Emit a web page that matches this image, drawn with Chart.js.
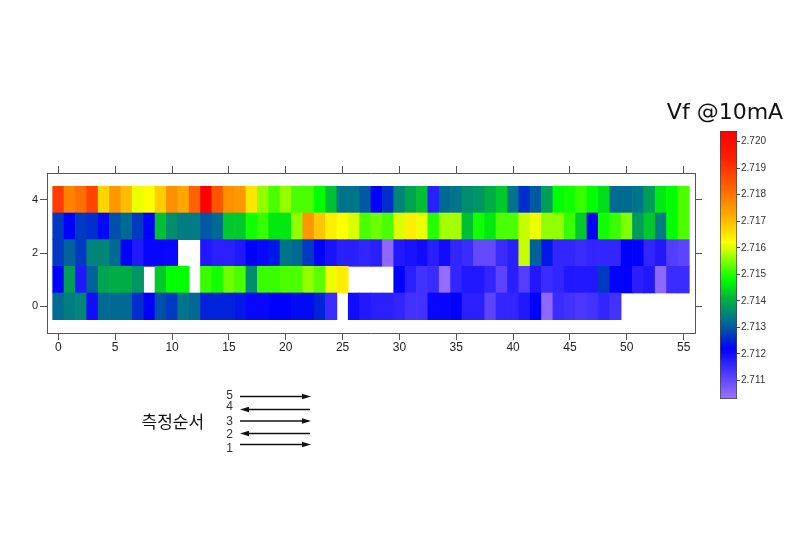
<!DOCTYPE html>
<html><head><meta charset="utf-8">
<script src="https://cdn.jsdelivr.net/npm/chart.js@4.4.1/dist/chart.umd.min.js"></script>
<style>
html,body{margin:0;padding:0;background:#fff;}
#wrap{position:relative;width:800px;height:533px;overflow:hidden;background:#fff;}
#main{position:absolute;left:0;top:0;}
#cbar{position:absolute;left:700px;top:120px;}
#overlay{position:absolute;left:0;top:0;}
</style></head><body>
<div id="wrap">
<canvas id="main" width="800" height="533"></canvas>
<canvas id="cbar" width="100" height="290"></canvas>
<svg id="overlay" width="800" height="533" xmlns="http://www.w3.org/2000/svg"></svg>
</div>
<script>
// ---- data (measurement order rows 0..4, positions 0..55) ----
const positions = Array.from({length: 56}, (_, i) => i);
const rowIds = [0, 1, 2, 3, 4];
const row0 = [2.7132, 2.7134, 2.7135, 2.7120, 2.7132, 2.7132, 2.7132, 2.7126, 2.7122, 2.7129,
  2.7127, 2.7133, 2.7132, 2.7125, 2.7125, 2.7125, 2.7124, 2.7121, 2.7121, 2.7122,
  2.7122, 2.7123, 2.7123, 2.7125, 2.7115, null, 2.7120, 2.7118, 2.7117, 2.7117,
  2.7116, 2.7114, 2.7114, 2.7121, 2.7121, 2.7122, 2.7117, 2.7117, 2.7111, 2.7116,
  2.7116, 2.7118, 2.7122, 2.7105, 2.7115, 2.7114, 2.7113, 2.7114, 2.7116, 2.7114,
  null, null, null, null, null, null];
const row1 = [2.7122, 2.7138, 2.7118, 2.7131, 2.7139, 2.7140, 2.7140, 2.7137, null, 2.7143,
  2.7148, 2.7148, null, 2.7151, 2.7149, 2.7154, 2.7152, 2.7136, 2.7151, 2.7151,
  2.7152, 2.7152, 2.7156, 2.7153, 2.7161, 2.7164, null, null, null, null,
  2.7122, 2.7117, 2.7114, 2.7115, 2.7104, 2.7116, 2.7118, 2.7118, 2.7116, 2.7111,
  2.7117, 2.7112, 2.7118, 2.7115, 2.7116, 2.7118, 2.7118, 2.7118, 2.7127, 2.7122,
  2.7122, 2.7117, 2.7118, 2.7105, 2.7115, 2.7115];
const row2 = [2.7127, 2.7131, 2.7127, 2.7135, 2.7135, 2.7132, 2.7122, 2.7118, 2.7121, 2.7121,
  2.7121, null, null, 2.7118, 2.7117, 2.7117, 2.7118, 2.7122, 2.7121, 2.7124,
  2.7133, 2.7132, 2.7127, 2.7122, 2.7119, 2.7117, 2.7117, 2.7116, 2.7117, 2.7105,
  2.7118, 2.7119, 2.7120, 2.7117, 2.7120, 2.7116, 2.7115, 2.7110, 2.7110, 2.7115,
  2.7117, 2.7159, 2.7131, 2.7124, 2.7116, 2.7116, 2.7115, 2.7116, 2.7116, 2.7116,
  2.7122, 2.7122, 2.7116, 2.7118, 2.7112, 2.7111];
const row3 = [2.7127, 2.7122, 2.7127, 2.7126, 2.7123, 2.7129, 2.7132, 2.7127, 2.7122, 2.7142,
  2.7136, 2.7134, 2.7134, 2.7130, 2.7132, 2.7143, 2.7143, 2.7149, 2.7151, 2.7146,
  2.7146, 2.7156, 2.7175, 2.7169, 2.7164, 2.7162, 2.7160, 2.7152, 2.7154, 2.7152,
  2.7160, 2.7164, 2.7161, 2.7150, 2.7157, 2.7157, 2.7142, 2.7149, 2.7146, 2.7152,
  2.7152, 2.7159, 2.7161, 2.7156, 2.7156, 2.7151, 2.7143, 2.7122, 2.7149, 2.7151,
  2.7155, 2.7138, 2.7143, 2.7134, 2.7148, 2.7152];
const row4 = [2.7189, 2.7178, 2.7181, 2.7188, 2.7167, 2.7175, 2.7170, 2.7161, 2.7162, 2.7168,
  2.7176, 2.7173, 2.7183, 2.7204, 2.7185, 2.7176, 2.7175, 2.7165, 2.7156, 2.7152,
  2.7156, 2.7152, 2.7152, 2.7148, 2.7142, 2.7133, 2.7133, 2.7130, 2.7122, 2.7126,
  2.7135, 2.7139, 2.7142, 2.7117, 2.7132, 2.7133, 2.7136, 2.7137, 2.7140, 2.7143,
  2.7133, 2.7126, 2.7130, 2.7138, 2.7148, 2.7149, 2.7151, 2.7148, 2.7145, 2.7132,
  2.7132, 2.7133, 2.7138, 2.7146, 2.7148, 2.7152];
const xTicks = [0, 5, 10, 15, 20, 25, 30, 35, 40, 45, 50, 55];
const yTicks = [0, 2, 4];
const cbTicks = [2.711, 2.712, 2.713, 2.714, 2.715, 2.716, 2.717, 2.718, 2.719, 2.720];
const cbMin = 2.7103, cbMax = 2.7204;
const cbTitle = 'Vf @10mA';
const orderTitle = '측정순서';
const orderLabels = ['5', '4', '3', '2', '1'];
const orderDirections = ['right', 'left', 'right', 'left', 'right'];

// colour map
const cmapStops = [2.7104, 2.7122, 2.7129, 2.7134, 2.7141, 2.7148, 2.7162, 2.7171, 2.7181, 2.7194, 2.7204];
const cmapColors = [[150,110,255],[0,0,255],[0,80,170],[0,125,130],[0,180,60],[0,255,0],[255,255,0],[255,180,0],[255,110,0],[255,30,0],[255,0,0]];
function colorFor(v) {
  if (v <= cmapStops[0]) return 'rgb(' + cmapColors[0].join(',') + ')';
  const n = cmapStops.length;
  if (v >= cmapStops[n-1]) return 'rgb(' + cmapColors[n-1].join(',') + ')';
  for (let i = 0; i < n - 1; i++) {
    if (v >= cmapStops[i] && v <= cmapStops[i+1]) {
      const t = (v - cmapStops[i]) / (cmapStops[i+1] - cmapStops[i]);
      const c = cmapColors[i].map((a, k) => Math.round(a + (cmapColors[i+1][k] - a) * t));
      return 'rgb(' + c.join(',') + ')';
    }
  }
}

const FONT = "'Liberation Sans', Arial, sans-serif";
const fixedTicks = list => scale => { scale.ticks = list.map(v => ({value: v})); };
const rows = [row0, row1, row2, row3, row4];

const datasets = rows.map((vals, r) => {
  const pts = [], cols = [];
  vals.forEach((v, c) => {
    if (v !== null) { pts.push({x: positions[c], y: [rowIds[r] - 0.5, rowIds[r] + 0.5]}); cols.push(colorFor(v)); }
  });
  return {data: pts, backgroundColor: cols, borderWidth: 0, grouped: false,
    barPercentage: 1, categoryPercentage: 1, xAxisID: 'x', yAxisID: 'y'};
});

const axisGrid = {drawOnChartArea: false, drawTicks: true, tickLength: 7, color: '#555', offset: false};
const axisBorder = {display: true, color: '#555', width: 1};

new Chart(document.getElementById('main'), {
  type: 'bar',
  data: {datasets},
  options: {
    responsive: false, animation: false, devicePixelRatio: 1,
    layout: {padding: {left: 27, top: 165, right: 97, bottom: 175}},
    plugins: {legend: {display: false}, tooltip: {enabled: false}},
    scales: {
      x: {type: 'linear', position: 'bottom', min: -1, max: 56, offset: false,
        afterBuildTicks: fixedTicks(xTicks), afterFit: s => { s.height = 25; },
        ticks: {color: '#222', font: {family: FONT, size: 12}, padding: 0, maxRotation: 0, autoSkip: false},
        grid: axisGrid, border: axisBorder},
      x2: {type: 'linear', position: 'top', min: -1, max: 56, offset: false,
        afterBuildTicks: fixedTicks(xTicks), afterFit: s => { s.height = 8; },
        ticks: {display: false}, grid: axisGrid, border: axisBorder},
      y: {type: 'linear', position: 'left', min: -1, max: 5,
        afterBuildTicks: fixedTicks(yTicks), afterFit: s => { s.width = 20; },
        ticks: {color: '#222', font: {family: FONT, size: 11}, padding: 2},
        grid: axisGrid, border: axisBorder},
      y2: {type: 'linear', position: 'right', min: -1, max: 5,
        afterBuildTicks: fixedTicks(yTicks), afterFit: s => { s.width = 8; },
        ticks: {display: false}, grid: axisGrid, border: axisBorder}
    }
  }
});

new Chart(document.getElementById('cbar'), {
  type: 'bar',
  data: {labels: [cbTitle], datasets: [{
    data: [[cbMin, cbMax]],
    backgroundColor: (ctx) => {
      const chart = ctx.chart;
      const ys = chart.scales && chart.scales.y;
      if (!chart.chartArea || !ys) return '#888';
      const y0 = ys.getPixelForValue(cbMin), y1 = ys.getPixelForValue(cbMax);
      const g = chart.ctx.createLinearGradient(0, y0, 0, y1);
      cmapStops.forEach((s, i) => {
        const off = (s - cbMin) / (cbMax - cbMin);
        if (off >= 0 && off <= 1) g.addColorStop(off, 'rgb(' + cmapColors[i].join(',') + ')');
      });
      g.addColorStop(0, colorFor(cbMin));
      g.addColorStop(1, colorFor(cbMax));
      return g;
    },
    borderColor: '#444', borderWidth: 1, borderSkipped: false,
    barPercentage: 1, categoryPercentage: 1
  }]},
  options: {
    responsive: false, animation: false, devicePixelRatio: 1,
    layout: {padding: {left: 20, right: 18, top: 11, bottom: 11}},
    plugins: {legend: {display: false}, tooltip: {enabled: false}},
    scales: {
      x: {display: false},
      y: {position: 'right', min: cbMin, max: cbMax,
        afterBuildTicks: fixedTicks(cbTicks), afterFit: s => { s.width = 45; },
        ticks: {color: '#333', font: {family: FONT, size: 10}, padding: 1, callback: v => Number(v).toFixed(3)},
        grid: {drawOnChartArea: false, drawTicks: true, tickLength: 3, color: '#444'},
        border: {display: false}}
    }
  }
});

// annotation overlay (title + measurement order legend)
(function() {
  const svg = document.getElementById('overlay');
  const NS = 'http://www.w3.org/2000/svg';
  function el(tag, attrs, text) {
    const e = document.createElementNS(NS, tag);
    for (const k in attrs) e.setAttribute(k, attrs[k]);
    if (text !== undefined) e.textContent = text;
    svg.appendChild(e); return e;
  }
  el('text', {x: 725, y: 119, 'font-family': 'DejaVu Sans', 'font-size': 22, 'text-anchor': 'middle', fill: '#111'}, cbTitle);
  el('text', {x: 141.5, y: 428, 'font-family': "'Noto Sans CJK KR'", 'font-size': 17, fill: '#111'}, orderTitle);
  const numY = [399, 410, 424.5, 438, 451.5];
  const arrY = [396.5, 409.5, 421, 433.5, 444.5];
  orderLabels.forEach((lab, i) => {
    el('text', {x: 229.5, y: numY[i], 'font-family': FONT, 'font-size': 12, 'text-anchor': 'middle', fill: '#333'}, lab);
    const y = arrY[i];
    if (orderDirections[i] === 'right') {
      el('line', {x1: 240, y1: y, x2: 304, y2: y, stroke: '#111', 'stroke-width': 1.5});
      el('polygon', {points: `302,${y-2.8} 311,${y} 302,${y+2.8}`, fill: '#111'});
    } else {
      el('line', {x1: 247, y1: y, x2: 310, y2: y, stroke: '#111', 'stroke-width': 1.5});
      el('polygon', {points: `249,${y-2.8} 240,${y} 249,${y+2.8}`, fill: '#111'});
    }
  });
})();
</script>
</body></html>
